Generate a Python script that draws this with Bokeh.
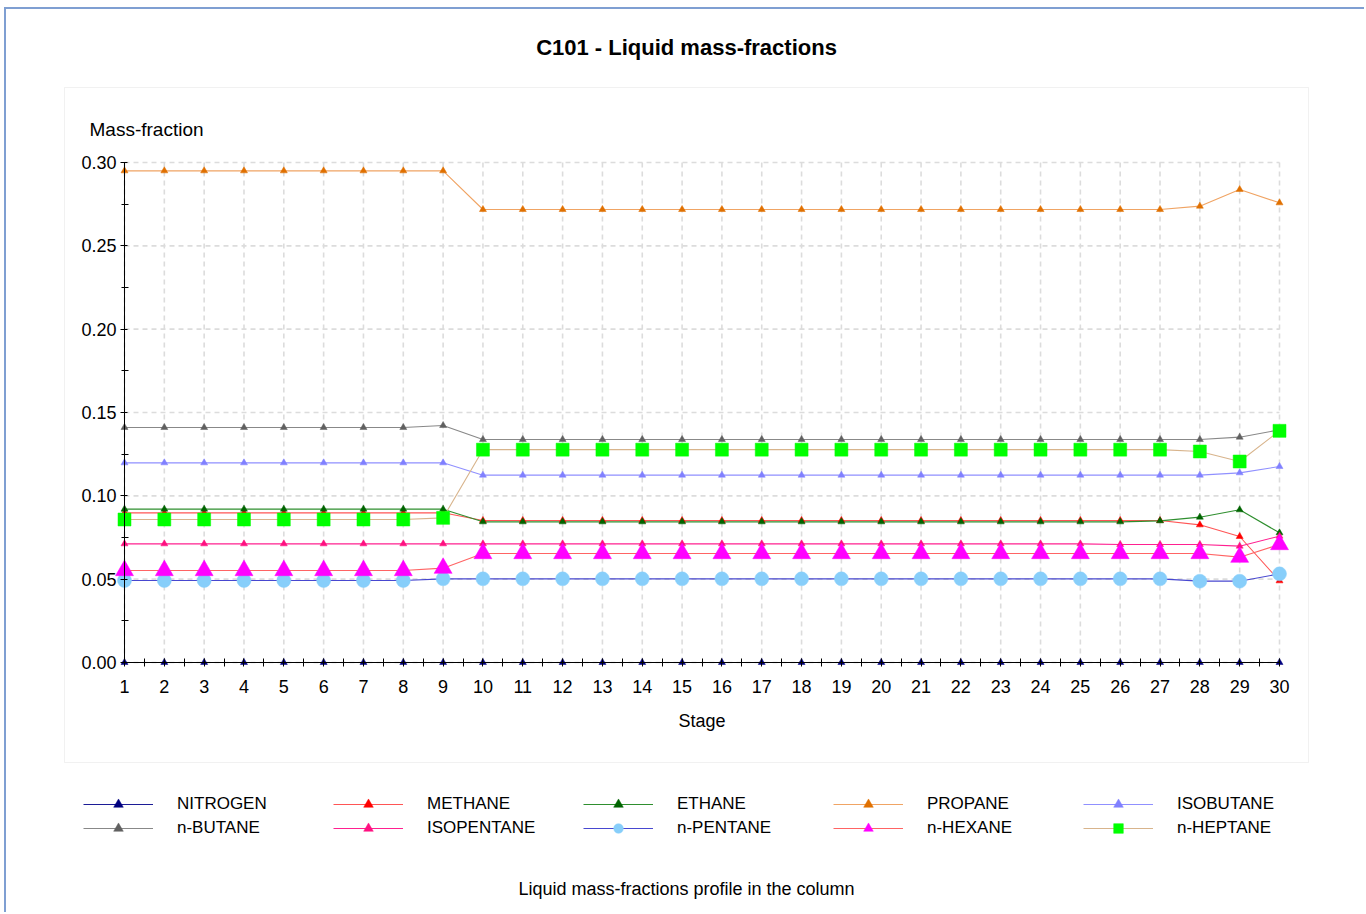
from bokeh.plotting import figure
from bokeh.models import (Range1d, FixedTicker, NumeralTickFormatter, Legend,
                          LegendItem, Label, BoxAnnotation)
from bokeh.embed import file_html
from bokeh.resources import INLINE

# ---- data: liquid mass fraction of each component on every column stage ----
stages = list(range(1, 31))

nitrogen = [0.0, 0.0, 0.0, 0.0, 0.0, 0.0, 0.0, 0.0, 0.0, 0.0,
            0.0, 0.0, 0.0, 0.0, 0.0, 0.0, 0.0, 0.0, 0.0, 0.0,
            0.0, 0.0, 0.0, 0.0, 0.0, 0.0, 0.0, 0.0, 0.0, 0.0]
methane = [0.0898, 0.0898, 0.0898, 0.0898, 0.0898, 0.0898, 0.0898, 0.0898, 0.0898, 0.0852,
           0.0852, 0.0852, 0.0852, 0.0852, 0.0852, 0.0852, 0.0852, 0.0852, 0.0852, 0.0852,
           0.0852, 0.0852, 0.0852, 0.0852, 0.0852, 0.0852, 0.0852, 0.0826, 0.0756, 0.0490]
ethane = [0.0920, 0.0920, 0.0920, 0.0920, 0.0920, 0.0920, 0.0920, 0.0920, 0.0920, 0.0844,
          0.0844, 0.0844, 0.0844, 0.0844, 0.0844, 0.0844, 0.0844, 0.0844, 0.0844, 0.0844,
          0.0844, 0.0844, 0.0844, 0.0844, 0.0844, 0.0844, 0.0850, 0.0872, 0.0916, 0.0778]
propane = [0.2950, 0.2950, 0.2950, 0.2950, 0.2950, 0.2950, 0.2950, 0.2950, 0.2950, 0.2718,
           0.2718, 0.2718, 0.2718, 0.2718, 0.2718, 0.2718, 0.2718, 0.2718, 0.2718, 0.2718,
           0.2718, 0.2718, 0.2718, 0.2718, 0.2718, 0.2718, 0.2718, 0.2738, 0.2838, 0.2758]
isobutane = [0.1198, 0.1198, 0.1198, 0.1198, 0.1198, 0.1198, 0.1198, 0.1198, 0.1198, 0.1124,
             0.1124, 0.1124, 0.1124, 0.1124, 0.1124, 0.1124, 0.1124, 0.1124, 0.1124, 0.1124,
             0.1124, 0.1124, 0.1124, 0.1124, 0.1124, 0.1124, 0.1124, 0.1124, 0.1138, 0.1176]
n_butane = [0.1410, 0.1410, 0.1410, 0.1410, 0.1410, 0.1410, 0.1410, 0.1410, 0.1422, 0.1338,
            0.1338, 0.1338, 0.1338, 0.1338, 0.1338, 0.1338, 0.1338, 0.1338, 0.1338, 0.1338,
            0.1338, 0.1338, 0.1338, 0.1338, 0.1338, 0.1338, 0.1338, 0.1338, 0.1352, 0.1396]
isopentane = [0.0712, 0.0712, 0.0712, 0.0712, 0.0712, 0.0712, 0.0712, 0.0712, 0.0712, 0.0712,
              0.0712, 0.0712, 0.0712, 0.0712, 0.0712, 0.0712, 0.0712, 0.0712, 0.0712, 0.0712,
              0.0712, 0.0712, 0.0712, 0.0712, 0.0712, 0.0708, 0.0708, 0.0708, 0.0698, 0.0758]
n_pentane = [0.0492, 0.0492, 0.0492, 0.0492, 0.0492, 0.0492, 0.0492, 0.0492, 0.0502, 0.0502,
             0.0502, 0.0502, 0.0502, 0.0502, 0.0502, 0.0502, 0.0502, 0.0502, 0.0502, 0.0502,
             0.0502, 0.0502, 0.0502, 0.0502, 0.0502, 0.0502, 0.0502, 0.0488, 0.0488, 0.0532]
n_hexane = [0.0552, 0.0552, 0.0552, 0.0552, 0.0552, 0.0552, 0.0552, 0.0552, 0.0566, 0.0654,
            0.0654, 0.0654, 0.0654, 0.0654, 0.0654, 0.0654, 0.0654, 0.0654, 0.0654, 0.0654,
            0.0654, 0.0654, 0.0654, 0.0654, 0.0654, 0.0654, 0.0654, 0.0654, 0.0632, 0.0708]
n_heptane = [0.0858, 0.0858, 0.0858, 0.0858, 0.0858, 0.0858, 0.0858, 0.0858, 0.0868, 0.1277,
             0.1277, 0.1277, 0.1277, 0.1277, 0.1277, 0.1277, 0.1277, 0.1277, 0.1277, 0.1277,
             0.1277, 0.1277, 0.1277, 0.1277, 0.1277, 0.1277, 0.1277, 0.1266, 0.1206, 0.1390]

component_names = ["NITROGEN", "METHANE", "ETHANE", "PROPANE", "ISOBUTANE",
                   "n-BUTANE", "ISOPENTANE", "n-PENTANE", "n-HEXANE", "n-HEPTANE"]
component_values = [nitrogen, methane, ethane, propane, isobutane,
                    n_butane, isopentane, n_pentane, n_hexane, n_heptane]

y_ticks = [0.00, 0.05, 0.10, 0.15, 0.20, 0.25, 0.30]
y_minor_ticks = [0.025, 0.075, 0.125, 0.175, 0.225, 0.275]

# ---- styles: (line colour, marker, marker fill, marker size) ----
styles = [
    ("#1c1c96", "triangle", "#00007f", 7),
    ("#ff5555", "triangle", "#ff0000", 7),
    ("#2f8f2f", "triangle", "#006400", 7),
    ("#f0a464", "triangle", "#e07000", 7),
    ("#9090ff", "triangle", "#8080ff", 7),
    ("#888888", "triangle", "#606060", 7),
    ("#ff2090", "triangle", "#ff1080", 7),
    ("#4848d0", "circle", "#87cefa", 14),
    ("#ff6464", "triangle", "#ff00ff", 18),
    ("#d8b48c", "square", "#00ff00", 13),
]

FONT = "Liberation Sans"

# ---- page layout (canvas pixels) ----
W, H = 1360, 905          # canvas, placed 6 px right / 9 px down by the page border
TOP = 70                  # title band above the frame; the frame fills the rest
STAGE1_X = 118            # canvas x of stage 1
STAGE30_X = 1273          # canvas x of stage 30
ZERO_Y = 653              # canvas y of fraction 0.00
TOP_Y = 153               # canvas y of fraction 0.30

px_per_stage = (STAGE30_X - STAGE1_X) / (stages[-1] - stages[0])
px_per_unit = (ZERO_Y - TOP_Y) / (y_ticks[-1] - y_ticks[0])
x_start = stages[0] - STAGE1_X / px_per_stage
x_end = x_start + W / px_per_stage
y_end = y_ticks[-1] + (TOP_Y - TOP) / px_per_unit
y_start = y_end - (H - TOP) / px_per_unit

p = figure(width=W, height=H, output_backend="svg", toolbar_location=None,
           x_range=Range1d(x_start, x_end), y_range=Range1d(y_start, y_end),
           min_border_left=0, min_border_right=0, min_border_top=TOP, min_border_bottom=0,
           styles={"margin-left": "4px", "margin-top": "7px",
                   "border-left": "2px solid #7f9fd2", "border-top": "2px solid #7f9fd2"})
p.background_fill_color = "white"
p.border_fill_color = "white"
p.outline_line_color = None
p.xgrid.visible = False
p.ygrid.visible = False

# title
p.title.text = "C101 - Liquid mass-fractions"
p.title.align = "center"
p.title.standoff = 39
p.title.text_font = FONT
p.title.text_font_size = "22px"
p.title.text_font_style = "bold"
p.title.text_color = "black"

# grey panel around the plot area (screen units measured from the frame's bottom-left)
p.add_layout(BoxAnnotation(left=58, right=1302, bottom=H - 753, top=H - 78,
                           left_units="screen", right_units="screen",
                           top_units="screen", bottom_units="screen",
                           fill_alpha=0, line_color="#cfcfcf", line_width=1, level="underlay"))

# dashed grid drawn only inside the stage / fraction box
p.segment(x0=stages, x1=stages, y0=[y_ticks[0]] * len(stages), y1=[y_ticks[-1]] * len(stages),
          line_color="#dcdcdc", line_width=1.6, line_dash="5 4", level="underlay")
p.segment(x0=[stages[0]] * len(y_ticks), x1=[stages[-1]] * len(y_ticks), y0=y_ticks, y1=y_ticks,
          line_color="#dcdcdc", line_width=1.6, line_dash="5 4", level="underlay")

# axes pinned to stage 1 and fraction 0
xa = p.xaxis[0]
xa.fixed_location = 0
xa.bounds = (stages[0], stages[-1])
xa.ticker = FixedTicker(ticks=stages, minor_ticks=[s + 0.5 for s in stages[:-1]])
xa.axis_label = "Stage"
xa.axis_label_standoff = 15
xa.axis_label_text_font = FONT
xa.axis_label_text_font_size = "18px"
xa.axis_label_text_font_style = "normal"
xa.axis_label_text_color = "black"
xa.major_label_text_font = FONT
xa.major_label_text_font_size = "18px"
xa.major_label_text_color = "black"
xa.major_label_standoff = 13
xa.major_tick_in = 4
xa.major_tick_out = 4
xa.minor_tick_in = 4
xa.minor_tick_out = 4
xa.axis_line_color = "black"
xa.major_tick_line_color = "black"
xa.minor_tick_line_color = "black"

ya = p.yaxis[0]
ya.fixed_location = stages[0]
ya.bounds = (y_ticks[0], y_ticks[-1])
ya.ticker = FixedTicker(ticks=y_ticks, minor_ticks=y_minor_ticks)
ya.formatter = NumeralTickFormatter(format="0.00")
ya.major_label_text_font = FONT
ya.major_label_text_font_size = "18px"
ya.major_label_text_color = "black"
ya.major_label_standoff = 4
ya.major_tick_in = 3
ya.major_tick_out = 4
ya.minor_tick_in = 4
ya.minor_tick_out = 3
ya.axis_line_color = "black"
ya.major_tick_line_color = "black"
ya.minor_tick_line_color = "black"

p.add_layout(Label(x=stages[0], y=y_ticks[-1], x_offset=-35, y_offset=33,
                   text="Mass-fraction", text_font=FONT, text_font_size="19px",
                   text_color="black", text_baseline="middle", text_align="left"))

# series: lines first, then markers
lines = []
for vals, (lc, _, _, _) in zip(component_values, styles):
    lines.append(p.line(stages, vals, line_color=lc, line_width=1.1))
marks = []
for vals, (lc, mk, fc, sz) in zip(component_values, styles):
    marks.append(p.scatter(stages, vals, marker=mk, size=sz, fill_color=fc,
                           line_color=fc, line_width=0.5))

items = [LegendItem(label=name, renderers=[ln, mk])
         for name, ln, mk in zip(component_names, lines, marks)]
legend = Legend(items=items, location=(77, 74), orientation="horizontal", ncols=5,
                padding=0, margin=0, spacing=0, glyph_width=70, glyph_height=24,
                label_width=156, label_height=24, label_standoff=24,
                label_text_font=FONT, label_text_font_size="17px", label_text_color="black",
                border_line_color=None, background_fill_alpha=0)
p.add_layout(legend, "center")

p.add_layout(Label(x=W / 2, y=26, x_units="screen", y_units="screen",
                   text="Liquid mass-fractions profile in the column",
                   text_font=FONT, text_font_size="18px", text_color="black",
                   text_align="center", text_baseline="middle"))

open("out.html", "w").write(file_html(p, INLINE))
